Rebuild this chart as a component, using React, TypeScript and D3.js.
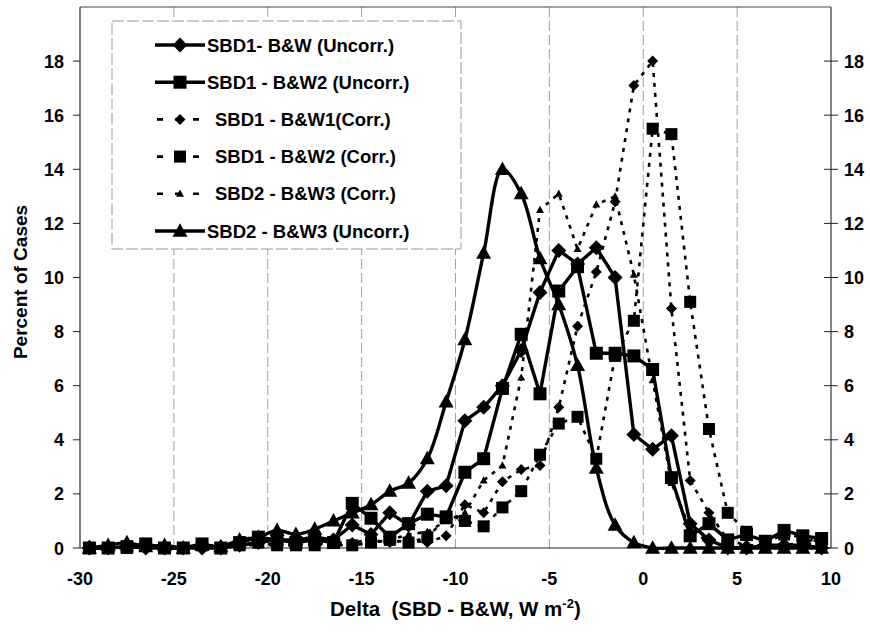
import React from 'react'
import * as d3 from 'd3'

// bin centres (W m-2)
const bins = [
  -29.5, -28.5, -27.5, -26.5, -25.5, -24.5, -23.5, -22.5, -21.5, -20.5,
  -19.5, -18.5, -17.5, -16.5, -15.5, -14.5, -13.5, -12.5, -11.5, -10.5,
  -9.5, -8.5, -7.5, -6.5, -5.5, -4.5, -3.5, -2.5, -1.5, -0.5,
  0.5, 1.5, 2.5, 3.5, 4.5, 5.5, 6.5, 7.5, 8.5, 9.5
]

const sbd1BwUncorr = [
  0, 0, 0.05, 0, 0, 0, 0, 0, 0.1, 0.2,
  0.3, 0.3, 0.4, 0.3, 0.85, 0.5, 1.3, 0.85, 2.1, 2.3,
  4.7, 5.2, 6.0, 7.3, 9.45, 11.0, 10.5, 11.1, 10.0, 4.2,
  3.65, 4.15, 0.9, 0.3, 0, 0, 0.1, 0.1, 0.1, 0
]
const sbd1Bw2Uncorr = [
  0, 0, 0.05, 0.15, 0, 0, 0.15, 0, 0.2, 0.4,
  0.3, 0.2, 0.3, 0.2, 1.65, 1.1, 0.4, 0.9, 1.25, 1.15,
  2.8, 3.3, 5.9, 7.9, 5.7, 9.5, 10.4, 7.2, 7.2, 7.1,
  6.6, 2.6, 0.45, 0.9, 0.3, 0.5, 0.25, 0.65, 0.45, 0.35
]
const sbd1Bw1Corr = [
  0.1, 0, 0, 0.1, 0.05, 0, 0.1, 0.1, 0.1, 0.2,
  0.1, 0.2, 0.1, 0.2, 0.2, 0.3, 0.2, 0.3, 0.2, 0.45,
  1.6, 1.3, 2.45, 2.9, 3.05, 5.2, 8.2, 10.2, 12.8, 17.1,
  18.0, 8.85, 2.5, 1.3, 0.3, 0.1, 0.1, 0.1, 0.2, 0.1
]
const sbd1Bw2Corr = [
  0, 0, 0, 0.1, 0, 0, 0.1, 0, 0.1, 0.2,
  0.1, 0.1, 0.1, 0.2, 0.1, 0.2, 0.3, 0.2, 0.4, 1.1,
  1.0, 0.8, 1.5, 2.1, 3.45, 4.6, 4.85, 3.3, 7.1, 8.4,
  15.5, 15.3, 9.1, 4.4, 1.3, 0.6, 0.2, 0.5, 0.4, 0.2
]
const sbd2Bw3Corr = [
  0, 0, 0, 0, 0, 0.05, 0, 0, 0.1, 0.1,
  0.1, 0.1, 0.2, 0.1, 0.1, 0.2, 0.3, 0.5, 0.6, 1.0,
  1.3, 2.5, 3.05, 6.3, 12.5, 13.1, 11.05, 12.7, 13.0, 10.1,
  6.2, 2.4, 0.7, 0.2, 0.1, 0.1, 0.1, 0.1, 0.2, 0.4
]
const sbd2Bw3Uncorr = [
  0, 0.1, 0.2, 0.05, 0.1, 0, 0.1, 0.05, 0.3, 0.4,
  0.65, 0.5, 0.7, 1.0, 1.3, 1.6, 2.1, 2.4, 3.3, 5.4,
  7.7, 10.9, 14.0, 13.1, 10.7, 9.0, 6.75, 2.95, 0.85, 0.2,
  0, 0, 0, 0, 0, 0, 0, 0, 0, 0
]

const xTicks = [-30, -25, -20, -15, -10, -5, 0, 5, 10]
const yTicks = [0, 2, 4, 6, 8, 10, 12, 14, 16, 18]
const gridX = [-25, -20, -15, -10, -5, 0, 5]

const series = [
  {name: 'SBD1- B&W (Uncorr.)', values: sbd1BwUncorr, marker: 'diamond', size: 7.5, dashed: false, smooth: false},
  {name: 'SBD1 - B&W2 (Uncorr.)', values: sbd1Bw2Uncorr, marker: 'square', size: 6.5, dashed: false, smooth: false},
  {name: 'SBD1 - B&W1(Corr.)', values: sbd1Bw1Corr, marker: 'diamond', size: 5.5, dashed: true, smooth: false},
  {name: 'SBD1 - B&W2 (Corr.)', values: sbd1Bw2Corr, marker: 'square', size: 6, dashed: true, smooth: false},
  {name: 'SBD2 - B&W3 (Corr.)', values: sbd2Bw3Corr, marker: 'triangle', size: 4, dashed: true, smooth: false},
  {name: 'SBD2 - B&W3 (Uncorr.)', values: sbd2Bw3Uncorr, marker: 'triangle', size: 7.5, dashed: false, smooth: true}
]

const FONT = '"Liberation Sans", Arial, Helvetica, sans-serif'

function markerPath(kind: string, r: number) {
  if (kind === 'diamond') return `M0,${-r}L${r},0L0,${r}L${-r},0Z`
  if (kind === 'square') return `M${-r},${-r}H${r}V${r}H${-r}Z`
  return `M0,${-r * 1.05}L${r},${r * 0.75}L${-r},${r * 0.75}Z`
}

export default function App() {
  const x = d3.scaleLinear().domain([-30, 10]).range([80, 831])
  const y = d3.scaleLinear().domain([0, 20]).range([548, 7])

  const legendRowY = (i: number) => 45 + i * 37.2

  return (
    <svg
      width={870}
      height={632}
      style={{position: 'absolute', left: 0, top: 0, background: '#fff'}}
      fontFamily={FONT}
      fontWeight="bold"
    >
      <rect width={870} height={632} fill="#fff" />

      {/* faint vertical gridlines */}
      {gridX.map(v => (
        <line
          key={'g' + v}
          x1={x(v)}
          x2={x(v)}
          y1={y(20)}
          y2={y(0)}
          stroke="#a0a0a0"
          strokeWidth={1}
          strokeDasharray="10,4"
        />
      ))}

      {/* frame */}
      <line x1={x(-30)} x2={x(10)} y1={y(20)} y2={y(20)} stroke="#444" strokeWidth={1} />
      <line x1={x(10)} x2={x(10)} y1={y(20)} y2={y(0)} stroke="#333" strokeWidth={1.2} />
      <line x1={x(-30)} x2={x(-30)} y1={y(20)} y2={y(0)} stroke="#222" strokeWidth={1.2} />
      <line x1={x(-30)} x2={x(10)} y1={y(0)} y2={y(0)} stroke="#222" strokeWidth={1.2} />

      {/* left axis */}
      {yTicks.map(v => (
        <g key={'yl' + v}>
          <line x1={x(-30) - 7} x2={x(-30)} y1={y(v)} y2={y(v)} stroke="#222" />
          <text x={64} y={y(v) + 6.5} textAnchor="end" fontSize={18}>
            {v}
          </text>
        </g>
      ))}
      {/* right axis */}
      {yTicks.map(v => (
        <g key={'yr' + v}>
          <line x1={x(10) - 7} x2={x(10) + 7} y1={y(v)} y2={y(v)} stroke="#222" />
          <text x={844} y={y(v) + 6.5} textAnchor="start" fontSize={18}>
            {v}
          </text>
        </g>
      ))}
      {/* bottom axis */}
      {xTicks.map(v => (
        <text key={'xt' + v} x={x(v)} y={585} textAnchor="middle" fontSize={18}>
          {v}
        </text>
      ))}

      {/* legend box */}
      <rect x={112} y={21} width={349} height={228} fill="#fff" stroke="#999" strokeWidth={1} strokeDasharray="12,3" />

      {/* series */}
      {series.map((s, si) => {
        const pts = s.values.map((v, i) => [x(bins[i]), y(v)] as [number, number])
        const line = d3
          .line()
          .curve(s.smooth ? d3.curveCatmullRom.alpha(0.5) : d3.curveLinear)(pts)
        return (
          <g key={'s' + si}>
            <path
              d={line || ''}
              fill="none"
              stroke="#000"
              strokeWidth={s.dashed ? 2.6 : 3.4}
              strokeDasharray={s.dashed ? '4,6' : undefined}
              strokeLinejoin="round"
            />
            {pts.map((p, i) => (
              <path key={i} d={markerPath(s.marker, s.size)} transform={`translate(${p[0]},${p[1]})`} fill="#000" />
            ))}
          </g>
        )
      })}

      {/* legend entries */}
      {series.map((s, i) => {
        const ly = legendRowY(i)
        return (
          <g key={'lg' + i}>
            {s.dashed ? (
              <line x1={157} x2={200} y1={ly} y2={ly} stroke="#000" strokeWidth={2.6} strokeDasharray="6,12" />
            ) : (
              <line x1={155} x2={205} y1={ly} y2={ly} stroke="#000" strokeWidth={3.4} />
            )}
            <path d={markerPath(s.marker, s.size)} transform={`translate(180,${ly})`} fill="#000" />
            <text x={s.dashed ? 215 : 207} y={ly + 6.5} fontSize={18.5}>
              {s.name}
            </text>
          </g>
        )
      })}

      {/* axis titles */}
      <text x={22} y={282} transform="rotate(-90,22,282)" textAnchor="middle" dominantBaseline="middle" fontSize={19}>
        Percent of Cases
      </text>
      <text x={330} y={616} fontSize={20.5}>
        {'Delta\u00a0\u00a0(SBD - B&W, W m'}
        <tspan dy={-8} fontSize={13}>-2</tspan>
        <tspan dy={8}>)</tspan>
      </text>
    </svg>
  )
}
